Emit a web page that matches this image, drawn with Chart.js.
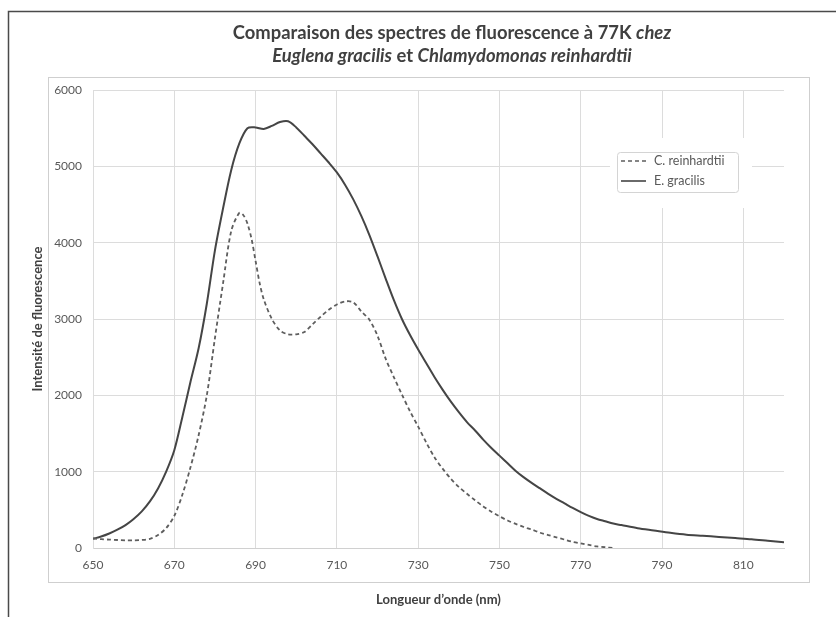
<!DOCTYPE html>
<html lang="fr">
  <head>
    <title>Spectres de fluorescence à 77K</title>
    <meta charset="utf-8" />
    <script src="https://cdn.jsdelivr.net/npm/chart.js"></script>
    <style>
      html, body { margin: 0; padding: 0; background: #fff; }
      #wrap { width: 836px; height: 617px; }
    </style>
  </head>
  <body>
    <div id="wrap"><canvas id="spectre"></canvas></div>

    <script>
      // longueurs d'onde (nm) et intensités
      const lambdaEug = [650, 652, 654, 656, 658, 660, 662, 664, 666, 668, 670, 672, 674, 676, 678, 680, 682, 684, 686, 688,
        690, 692, 694, 696, 698, 700, 702, 704, 706, 708, 710, 712, 714, 716, 718, 720, 722, 724, 726, 728,
        730, 732, 734, 736, 738, 740, 742, 744, 746, 748, 750, 752, 754, 756, 758, 760, 762, 764, 766, 768,
        770, 772, 774, 776, 778, 780, 784, 788, 792, 796, 800, 804, 808, 812, 816, 820];
      const euglena = [120, 150, 190, 240, 300, 380, 480, 610, 780, 1000, 1280, 1720, 2180, 2620, 3200, 3900, 4450, 4950, 5300, 5500,
        5510, 5490, 5530, 5580, 5590, 5510, 5400, 5290, 5170, 5050, 4920, 4760, 4570, 4350, 4100, 3820, 3530, 3250, 3000, 2790,
        2600, 2420, 2240, 2075, 1920, 1780, 1650, 1540, 1420, 1310, 1210, 1110, 1010, 925, 850, 780, 710, 645, 585, 525,
        470, 420, 380, 350, 320, 300, 260, 230, 200, 175, 160, 145, 130, 115, 95, 75];

      const lambdaChlamy = [650, 652, 654, 656, 658, 660, 662, 664, 666, 668, 670, 672, 674, 676, 678, 680, 682, 684, 686, 687,
        688, 689, 690, 691, 692, 694, 696, 698, 700, 702, 704, 706, 708, 710, 712, 714, 716, 718, 720, 722,
        724, 726, 728, 730, 732, 734, 736, 738, 740, 742, 744, 746, 748, 750, 752, 754, 756, 758, 760, 762,
        764, 766, 768, 770, 772, 774, 776, 778];
      const chlamy = [125, 115, 110, 105, 100, 100, 105, 120, 170, 260, 420, 700, 1060, 1480, 2000, 2750, 3470, 4150, 4390, 4360,
        4250, 4050, 3760, 3470, 3260, 3000, 2850, 2800, 2800, 2830, 2930, 3030, 3120, 3190, 3230, 3220, 3100, 2990, 2780, 2480,
        2240, 2010, 1790, 1590, 1380, 1190, 1040, 910, 800, 710, 625, 545, 475, 415, 360, 315, 275, 240, 200, 170,
        140, 110, 80, 60, 40, 20, 10, 0];

      const xTicks = [650, 670, 690, 710, 730, 750, 770, 790, 810];

      const gris = "#595959";

      // cadre de la page + boîte grise + titre en deux styles
      const decor = {
        id: "decor",
        beforeDraw(chart) {
          const ctx = chart.ctx;
          ctx.save();
          ctx.fillStyle = "#fff";
          ctx.fillRect(0, 0, chart.width, chart.height);
          ctx.strokeStyle = "#4a4a4a";
          ctx.lineWidth = 1.5;
          ctx.beginPath();
          ctx.moveTo(8.5, chart.height);
          ctx.lineTo(8.5, 11.5);
          ctx.lineTo(chart.width, 11.5);
          ctx.stroke();
          ctx.strokeStyle = "#cfcfcf";
          ctx.lineWidth = 1;
          ctx.strokeRect(48.5, 77.5, 761, 505);
          ctx.restore();
        },
        afterDraw(chart) {
          const ctx = chart.ctx;
          const cx = 452;
          const lignes = [
            [["Comparaison des spectres de fluorescence à 77K ", false], ["chez", true]],
            [["Euglena gracilis", true], [" et ", false], ["Chlamydomonas reinhardtii", true]],
          ];
          const ys = [33, 56];
          ctx.save();
          ctx.fillStyle = "#404040";
          ctx.textBaseline = "middle";
          ctx.textAlign = "left";
          lignes.forEach((ligne, i) => {
            let w = 0;
            ligne.forEach(([t, it]) => {
              ctx.font = (it ? "italic " : "") + "bold 18.4px Lato";
              w += ctx.measureText(t).width;
            });
            let x = cx - w / 2;
            ligne.forEach(([t, it]) => {
              ctx.font = (it ? "italic " : "") + "bold 18.4px Lato";
              ctx.fillText(t, x, ys[i]);
              x += ctx.measureText(t).width;
            });
          });
          ctx.restore();
        },
      };

      // légende dans la zone de tracé
      const legende = {
        id: "legende",
        afterDatasetsDraw(chart) {
          const ctx = chart.ctx;
          ctx.save();
          ctx.fillStyle = "#fff";
          ctx.fillRect(610, 138, 142, 70);
          ctx.strokeStyle = "#d4d4d4";
          ctx.lineWidth = 1;
          ctx.beginPath();
          ctx.roundRect(617.5, 152.5, 121, 40, 3);
          ctx.stroke();
          ctx.font = "12.5px Lato";
          ctx.textBaseline = "middle";
          chart.data.datasets.forEach((ds, i) => {
            const y = 161 + i * 20;
            ctx.strokeStyle = ds.borderColor;
            ctx.lineWidth = 1.6;
            ctx.setLineDash(ds.borderDash || []);
            ctx.beginPath();
            ctx.moveTo(621, y);
            ctx.lineTo(646, y);
            ctx.stroke();
            ctx.setLineDash([]);
            ctx.fillStyle = gris;
            ctx.fillText(ds.label, 654, y);
          });
          ctx.restore();
        },
      };

      new Chart(document.getElementById("spectre"), {
        type: "line",
        data: {
          datasets: [
            {
              label: "C. reinhardtii",
              data: lambdaChlamy.map((x, i) => ({ x: x, y: chlamy[i] })),
              borderColor: "#5e5e5e",
              borderWidth: 1.8,
              borderDash: [4, 3],
              pointRadius: 0,
              tension: 0.3,
            },
            {
              label: "E. gracilis",
              data: lambdaEug.map((x, i) => ({ x: x, y: euglena[i] })),
              borderColor: "#454545",
              borderWidth: 2,
              pointRadius: 0,
              tension: 0.3,
            },
          ],
        },
        options: {
          responsive: true,
          maintainAspectRatio: false,
          animation: false,
          layout: { padding: { left: 0, right: 52, top: 90, bottom: 0 } },
          plugins: {
            legend: { display: false },
            tooltip: { enabled: false },
          },
          scales: {
            x: {
              type: "linear",
              min: 650,
              max: 820,
              afterBuildTicks: (s) => {
                s.ticks = xTicks.map((v) => ({ value: v }));
              },
              afterFit: (s) => {
                s.height = 69;
              },
              grid: { color: "#dcdcdc", drawTicks: false },
              border: { color: "#d0d0d0" },
              ticks: { color: gris, font: { family: "Lato", size: 12 }, padding: 10, maxRotation: 0, callback: (v) => String(v) },
              title: {
                display: true,
                text: "Longueur d’onde (nm)",
                color: "#404040",
                font: { family: "Lato", size: 13, weight: "bold" },
                padding: { top: 0, bottom: 9 },
              },
            },
            y: {
              min: 0,
              max: 6000,
              ticks: { stepSize: 1000, color: gris, font: { family: "Lato", size: 12 }, padding: 11, callback: (v) => String(v) },
              afterFit: (s) => {
                s.width = 93;
              },
              grid: { color: "#dcdcdc", drawTicks: false },
              border: { color: "#dcdcdc" },
              title: {
                display: true,
                text: "Intensité de fluorescence",
                color: "#404040",
                font: { family: "Lato", size: 13, weight: "bold" },
                padding: { top: 30, bottom: 0 },
              },
            },
          },
        },
        plugins: [decor, legende],
      });
    </script>
  </body>
</html>
